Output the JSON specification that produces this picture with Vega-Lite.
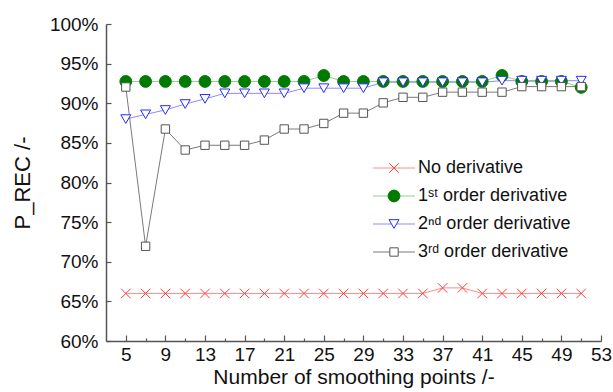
{
  "$schema": "https://vega.github.io/schema/vega-lite/v6.json",
  "width": 495,
  "height": 317,
  "autosize": {"type": "none"},
  "padding": {"left": 106, "top": 24, "right": 12, "bottom": 51},
  "background": "white",
  "config": {
    "view": {"stroke": null},
    "font": "Liberation Sans",
    "axis": {
      "labelFont": "Liberation Sans",
      "labelFontSize": 19,
      "labelColor": "#111111",
      "titleFont": "Liberation Sans",
      "titleFontWeight": "normal",
      "titleColor": "#111111",
      "domainColor": "#555555",
      "domainWidth": 1.5,
      "tickColor": "#555555",
      "tickWidth": 1.2,
      "grid": false
    },
    "legend": {
      "labelFont": "Liberation Sans, DejaVu Sans",
      "labelFontSize": 18,
      "labelColor": "#111111",
      "padding": 0,
      "rowPadding": 10
    }
  },
  "data": {
    "values": [
      {"n": 5, "series": "No derivative", "v": 66.0},
      {"n": 7, "series": "No derivative", "v": 66.0},
      {"n": 9, "series": "No derivative", "v": 66.0},
      {"n": 11, "series": "No derivative", "v": 66.0},
      {"n": 13, "series": "No derivative", "v": 66.0},
      {"n": 15, "series": "No derivative", "v": 66.0},
      {"n": 17, "series": "No derivative", "v": 66.0},
      {"n": 19, "series": "No derivative", "v": 66.0},
      {"n": 21, "series": "No derivative", "v": 66.0},
      {"n": 23, "series": "No derivative", "v": 66.0},
      {"n": 25, "series": "No derivative", "v": 66.0},
      {"n": 27, "series": "No derivative", "v": 66.0},
      {"n": 29, "series": "No derivative", "v": 66.0},
      {"n": 31, "series": "No derivative", "v": 66.0},
      {"n": 33, "series": "No derivative", "v": 66.0},
      {"n": 35, "series": "No derivative", "v": 66.0},
      {"n": 37, "series": "No derivative", "v": 66.7},
      {"n": 39, "series": "No derivative", "v": 66.7},
      {"n": 41, "series": "No derivative", "v": 66.0},
      {"n": 43, "series": "No derivative", "v": 66.0},
      {"n": 45, "series": "No derivative", "v": 66.0},
      {"n": 47, "series": "No derivative", "v": 66.0},
      {"n": 49, "series": "No derivative", "v": 66.0},
      {"n": 51, "series": "No derivative", "v": 66.0},
      {"n": 5, "series": "1st order derivative", "v": 92.75},
      {"n": 7, "series": "1st order derivative", "v": 92.75},
      {"n": 9, "series": "1st order derivative", "v": 92.75},
      {"n": 11, "series": "1st order derivative", "v": 92.75},
      {"n": 13, "series": "1st order derivative", "v": 92.75},
      {"n": 15, "series": "1st order derivative", "v": 92.75},
      {"n": 17, "series": "1st order derivative", "v": 92.75},
      {"n": 19, "series": "1st order derivative", "v": 92.75},
      {"n": 21, "series": "1st order derivative", "v": 92.75},
      {"n": 23, "series": "1st order derivative", "v": 92.75},
      {"n": 25, "series": "1st order derivative", "v": 93.5},
      {"n": 27, "series": "1st order derivative", "v": 92.75},
      {"n": 29, "series": "1st order derivative", "v": 92.75},
      {"n": 31, "series": "1st order derivative", "v": 92.75},
      {"n": 33, "series": "1st order derivative", "v": 92.75},
      {"n": 35, "series": "1st order derivative", "v": 92.75},
      {"n": 37, "series": "1st order derivative", "v": 92.75},
      {"n": 39, "series": "1st order derivative", "v": 92.75},
      {"n": 41, "series": "1st order derivative", "v": 92.75},
      {"n": 43, "series": "1st order derivative", "v": 93.5},
      {"n": 45, "series": "1st order derivative", "v": 92.75},
      {"n": 47, "series": "1st order derivative", "v": 92.75},
      {"n": 49, "series": "1st order derivative", "v": 92.75},
      {"n": 51, "series": "1st order derivative", "v": 92.0},
      {"n": 5, "series": "2nd order derivative", "v": 88.0},
      {"n": 7, "series": "2nd order derivative", "v": 88.6},
      {"n": 9, "series": "2nd order derivative", "v": 89.15},
      {"n": 11, "series": "2nd order derivative", "v": 89.9},
      {"n": 13, "series": "2nd order derivative", "v": 90.55},
      {"n": 15, "series": "2nd order derivative", "v": 91.25},
      {"n": 17, "series": "2nd order derivative", "v": 91.25},
      {"n": 19, "series": "2nd order derivative", "v": 91.25},
      {"n": 21, "series": "2nd order derivative", "v": 91.25},
      {"n": 23, "series": "2nd order derivative", "v": 91.9},
      {"n": 25, "series": "2nd order derivative", "v": 91.9},
      {"n": 27, "series": "2nd order derivative", "v": 91.9},
      {"n": 29, "series": "2nd order derivative", "v": 91.9},
      {"n": 31, "series": "2nd order derivative", "v": 92.65},
      {"n": 33, "series": "2nd order derivative", "v": 92.65},
      {"n": 35, "series": "2nd order derivative", "v": 92.65},
      {"n": 37, "series": "2nd order derivative", "v": 92.65},
      {"n": 39, "series": "2nd order derivative", "v": 92.65},
      {"n": 41, "series": "2nd order derivative", "v": 92.65},
      {"n": 43, "series": "2nd order derivative", "v": 92.85},
      {"n": 45, "series": "2nd order derivative", "v": 92.85},
      {"n": 47, "series": "2nd order derivative", "v": 92.85},
      {"n": 49, "series": "2nd order derivative", "v": 92.85},
      {"n": 51, "series": "2nd order derivative", "v": 92.85},
      {"n": 5, "series": "3rd order derivative", "v": 92.05},
      {"n": 7, "series": "3rd order derivative", "v": 71.95},
      {"n": 9, "series": "3rd order derivative", "v": 86.75},
      {"n": 11, "series": "3rd order derivative", "v": 84.1},
      {"n": 13, "series": "3rd order derivative", "v": 84.7},
      {"n": 15, "series": "3rd order derivative", "v": 84.7},
      {"n": 17, "series": "3rd order derivative", "v": 84.7},
      {"n": 19, "series": "3rd order derivative", "v": 85.35},
      {"n": 21, "series": "3rd order derivative", "v": 86.75},
      {"n": 23, "series": "3rd order derivative", "v": 86.75},
      {"n": 25, "series": "3rd order derivative", "v": 87.45},
      {"n": 27, "series": "3rd order derivative", "v": 88.75},
      {"n": 29, "series": "3rd order derivative", "v": 88.75},
      {"n": 31, "series": "3rd order derivative", "v": 90.05},
      {"n": 33, "series": "3rd order derivative", "v": 90.75},
      {"n": 35, "series": "3rd order derivative", "v": 90.75},
      {"n": 37, "series": "3rd order derivative", "v": 91.4},
      {"n": 39, "series": "3rd order derivative", "v": 91.4},
      {"n": 41, "series": "3rd order derivative", "v": 91.4},
      {"n": 43, "series": "3rd order derivative", "v": 91.4},
      {"n": 45, "series": "3rd order derivative", "v": 92.1},
      {"n": 47, "series": "3rd order derivative", "v": 92.1},
      {"n": 49, "series": "3rd order derivative", "v": 92.1},
      {"n": 51, "series": "3rd order derivative", "v": 92.1}
    ]
  },
  "resolve": {"axis": {"x": "independent"}},
  "layer": [
    {
      "mark": {"type": "line", "strokeWidth": 1},
      "encoding": {
        "x": {
          "field": "n", "type": "quantitative",
          "scale": {"domain": [3, 53], "nice": false, "zero": false},
          "axis": {
            "orient": "bottom",
            "values": [5, 9, 13, 17, 21, 25, 29, 33, 37, 41, 45, 49, 53],
            "tickSize": -6,
            "labelPadding": 10,
            "labelFlush": false,
            "labelOverlap": false,
            "title": "Number of smoothing points /-",
            "titleFontSize": 21,
            "titlePadding": 2
          }
        },
        "y": {
          "field": "v", "type": "quantitative",
          "scale": {"domain": [60, 100], "nice": false, "zero": false},
          "axis": {
            "values": [60, 65, 70, 75, 80, 85, 90, 95, 100],
            "labelExpr": "datum.value + '%'",
            "tickSize": -5,
            "labelPadding": 13,
            "labelFlush": false,
            "labelOverlap": false,
            "title": "P_REC /-",
            "titleFontSize": 22,
            "titlePadding": 15
          }
        },
        "color": {
          "field": "series", "type": "nominal",
          "sort": ["No derivative", "1st order derivative", "2nd order derivative", "3rd order derivative"],
          "scale": {"range": ["#ff8c8c", "#8fd08f", "#8c8cff", "#7a7a7a"]},
          "legend": {
            "orient": "none",
            "legendX": 279,
            "legendY": 135,
            "title": null,
            "symbolType": "M-3.5,0L3.5,0",
            "symbolSize": 144,
            "symbolStrokeWidth": 1,
            "labelExpr": "' '"
          }
        }
      }
    },
    {
      "mark": {"type": "point", "opacity": 1, "strokeWidth": 1},
      "encoding": {
        "x": {
          "field": "n", "type": "quantitative",
          "axis": {
            "orient": "bottom",
            "values": [7, 11, 15, 19, 23, 27, 31, 35, 39, 43, 47, 51],
            "tickSize": -3,
            "labels": false,
            "domain": false,
            "title": null
          }
        },
        "y": {
          "field": "v", "type": "quantitative",
          "axis": {
            "values": [60, 65, 70, 75, 80, 85, 90, 95, 100],
            "labelExpr": "datum.value + '%'",
            "tickSize": -5,
            "labelPadding": 13,
            "labelFlush": false,
            "labelOverlap": false,
            "title": "P_REC /-",
            "titleFontSize": 22,
            "titlePadding": 15
          }
        },
        "stroke": {
          "field": "series", "type": "nominal",
          "scale": {
            "domain": ["No derivative", "1st order derivative", "2nd order derivative", "3rd order derivative"],
            "range": ["#ff3b3b", "#007a00", "#2a2aff", "#555555"]
          },
          "legend": {
            "orient": "none",
            "legendX": 279,
            "legendY": 135,
            "title": null,
            "labelOffset": 15,
            "symbolStrokeWidth": 1,
            "labelExpr": "datum.label == '1st order derivative' ? '1ˢᵗ order derivative' : datum.label == '2nd order derivative' ? '2ⁿᵈ order derivative' : datum.label == '3rd order derivative' ? '3ʳᵈ order derivative' : datum.label"
          }
        },
        "fill": {
          "field": "series", "type": "nominal",
          "scale": {
            "domain": ["No derivative", "1st order derivative", "2nd order derivative", "3rd order derivative"],
            "range": ["transparent", "#007a00", "white", "white"]
          }
        },
        "shape": {
          "field": "series", "type": "nominal",
          "scale": {
            "domain": ["No derivative", "1st order derivative", "2nd order derivative", "3rd order derivative"],
            "range": ["M-1,-1L1,1M1,-1L-1,1", "circle", "triangle-down", "square"]
          }
        },
        "size": {
          "field": "series", "type": "nominal",
          "scale": {
            "type": "ordinal",
            "domain": ["No derivative", "1st order derivative", "2nd order derivative", "3rd order derivative"],
            "range": [90, 140, 100, 70]
          }
        }
      }
    }
  ]
}
